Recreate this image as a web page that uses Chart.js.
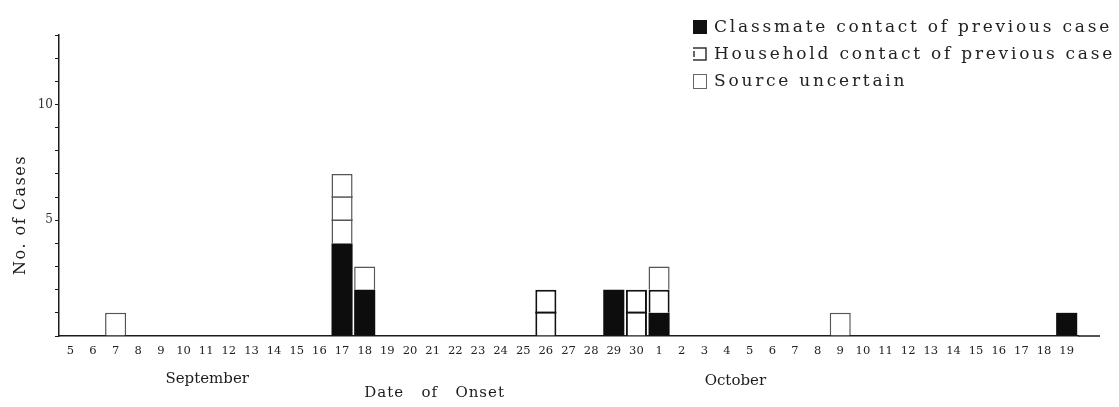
<!DOCTYPE html>
<html>
<head>
<meta charset="utf-8">
<script src="https://cdn.jsdelivr.net/npm/chart.js@4.4.1/dist/chart.umd.min.js"></script>
<style>
  html, body { margin: 0; padding: 0; background: #fff; }
  #wrap { width: 1119px; height: 407px; position: relative; }
</style>
</head>
<body>
<div id="wrap"><canvas id="epiChart" width="1119" height="407"></canvas></div>
<script>
// Date of onset, September 5 - October 19
var days = ['5','6','7','8','9','10','11','12','13','14','15','16','17','18','19','20',
            '21','22','23','24','25','26','27','28','29','30',
            '1','2','3','4','5','6','7','8','9','10','11','12','13','14','15','16','17','18','19'];
var monthNames = ['September', 'October'];
var seriesNames = ['Classmate contact of previous case', 'Household contact of previous case', 'Source uncertain'];

// number of cases per day (Sept 5..30, then Oct 1..19)
var classmate = [0,0,0,0,0,0,0,0,0,0,0,0,4,2,0,0,0,0,0,0,0,0,0,0,2,0,
                 1,0,0,0,0,0,0,0,0,0,0,0,0,0,0,0,0,0,1];
var household = [0,0,0,0,0,0,0,0,0,0,0,0,0,0,0,0,0,0,0,0,0,2,0,0,0,2,
                 1,0,0,0,0,0,0,0,0,0,0,0,0,0,0,0,0,0,0];
var uncertain = [0,0,1,0,0,0,0,0,0,0,0,0,3,1,0,0,0,0,0,0,0,0,0,0,0,0,
                 1,0,0,0,0,0,0,0,1,0,0,0,0,0,0,0,0,0,0];
var yLabels = [5, 10];

var ink = '#1c1c1c';
var serif = "'DejaVu Serif', serif";

// lines between stacked single cases + extra text
var boxPlugin = {
  id: 'boxes',
  afterDatasetsDraw: function (chart) {
    var ctx = chart.ctx;
    [1, 2].forEach(function (di) {
      var meta = chart.getDatasetMeta(di);
      var vals = chart.data.datasets[di].data;
      meta.data.forEach(function (bar, i) {
        var v = vals[i];
        if (v < 2) return;
        var unit = (bar.base - bar.y) / v;
        ctx.save();
        ctx.strokeStyle = chart.data.datasets[di].borderColor;
        ctx.lineWidth = chart.data.datasets[di].borderWidth;
        for (var k = 1; k < v; k++) {
          var yy = bar.base - k * unit;
          ctx.beginPath();
          ctx.moveTo(bar.x - bar.width / 2, yy);
          ctx.lineTo(bar.x + bar.width / 2, yy);
          ctx.stroke();
        }
        ctx.restore();
      });
    });
  },
  afterDraw: function (chart) {
    var ctx = chart.ctx;
    var xs = chart.scales.x;
    var area = chart.chartArea;
    ctx.save();
    // axis line runs on past the last day
    ctx.strokeStyle = ink;
    ctx.lineWidth = 1.5;
    ctx.beginPath();
    ctx.moveTo(area.right, area.bottom);
    ctx.lineTo(1100, area.bottom);
    ctx.stroke();

    ctx.fillStyle = ink;
    ctx.textAlign = 'center';
    ctx.textBaseline = 'middle';
    ctx.font = '15px ' + serif;
    ctx.fillText(monthNames[0], xs.getPixelForValue(6) + 1, 379);
    ctx.fillText(monthNames[1], xs.getPixelForValue(28) + 31, 381);
    ctx.letterSpacing = '1px';
    ctx.fillText('Date   of   Onset', xs.getPixelForValue(16) + 2, 393);

    // y title
    ctx.save();
    ctx.translate(21, 215);
    ctx.rotate(-Math.PI / 2);
    ctx.font = '16px ' + serif;
    ctx.letterSpacing = '1.5px';
    ctx.fillText('No. of Cases', 0, 0);
    ctx.restore();

    // legend
    ctx.textAlign = 'left';
    ctx.font = '17px ' + serif;
    ctx.letterSpacing = '0px';
    var w0 = ctx.measureText(seriesNames[0]).width;
    var sp = Math.max(0, (398 - w0) / seriesNames[0].length);
    ctx.letterSpacing = sp.toFixed(2) + 'px';
    var rows = [27, 54, 81];
    seriesNames.forEach(function (name, i) {
      var y = rows[i];
      if (i === 0) {
        ctx.fillStyle = '#111';
        ctx.fillRect(693, y - 7, 14, 14);
      } else if (i === 1) {
        ctx.strokeStyle = '#333';
        ctx.lineWidth = 1.5;
        ctx.beginPath();
        ctx.moveTo(693, y - 6); ctx.lineTo(706, y - 6); ctx.lineTo(706, y + 6); ctx.lineTo(693, y + 6);
        ctx.stroke();
        ctx.beginPath();
        ctx.moveTo(694, y - 3); ctx.lineTo(694, y + 3);
        ctx.stroke();
      } else {
        ctx.strokeStyle = '#666';
        ctx.lineWidth = 1;
        ctx.strokeRect(693.5, y - 6.5, 13, 14);
      }
      ctx.fillStyle = '#222';
      ctx.fillText(name, 714, y + 1);
    });
    ctx.restore();
  }
};

new Chart(document.getElementById('epiChart').getContext('2d'), {
  type: 'bar',
  data: {
    labels: days,
    datasets: [
      {
        label: seriesNames[0],
        data: classmate,
        backgroundColor: '#0d0d0d',
        borderColor: '#0d0d0d',
        borderWidth: 0,
        barPercentage: 1,
        categoryPercentage: 0.93
      },
      {
        label: seriesNames[1],
        data: household,
        backgroundColor: '#ffffff',
        borderColor: '#111111',
        borderWidth: 2,
        barPercentage: 1,
        categoryPercentage: 0.93
      },
      {
        label: seriesNames[2],
        data: uncertain,
        backgroundColor: '#ffffff',
        borderColor: '#555555',
        borderWidth: 1.5,
        barPercentage: 1,
        categoryPercentage: 0.93
      }
    ]
  },
  options: {
    responsive: false,
    animation: false,
    layout: { padding: { left: 0, top: 35, right: 41, bottom: 0 } },
    plugins: {
      legend: { display: false },
      tooltip: { enabled: false }
    },
    scales: {
      x: {
        stacked: true,
        grid: { display: false },
        border: { display: true, color: ink, width: 1.5 },
        ticks: {
          color: '#222',
          font: { family: serif, size: 11.5 },
          maxRotation: 0,
          autoSkip: false,
          padding: 0
        },
        afterFit: function (scale) { scale.height = 71; }
      },
      y: {
        stacked: true,
        min: 0,
        max: 13,
        grid: { display: true, drawOnChartArea: false, drawTicks: true, tickLength: 4, color: ink },
        border: { display: true, color: ink, width: 1.5 },
        ticks: {
          stepSize: 1,
          color: '#333',
          font: { family: serif, size: 12 },
          padding: 2,
          callback: function (v) { return yLabels.indexOf(v) >= 0 ? String(v) : ''; }
        },
        afterFit: function (scale) { scale.width = 59; }
      }
    }
  },
  plugins: [boxPlugin]
});
</script>
</body>
</html>
